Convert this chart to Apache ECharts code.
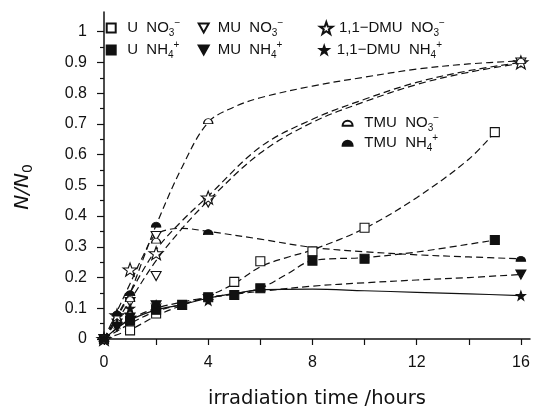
<!DOCTYPE html>
<html><head><meta charset="utf-8">
<script src="https://cdn.jsdelivr.net/npm/echarts@6/dist/echarts.min.js"></script>
<style>html,body{margin:0;padding:0;background:#fff}#c{width:536px;height:414px}</style>
</head><body><div id="c"></div>
<script>
// ---- tick labels ----
const xTickLabels = [0, 4, 8, 12, 16];
const xTickMarks = [0, 2, 4, 6, 8, 10, 12, 14, 16];
const yTickLabels = [0, 0.1, 0.2, 0.3, 0.4, 0.5, 0.6, 0.7, 0.8, 0.9, 1];
const yMinorTicks = [0.05, 0.15, 0.25, 0.35, 0.45, 0.55, 0.65, 0.75, 0.85, 0.95];

// ---- measured points (time in hours, N/N0) ----
const U_NO3_t = [0, 1, 2, 5, 6, 8, 10, 15];
const U_NO3_v = [0, 0.028, 0.083, 0.186, 0.253, 0.285, 0.362, 0.673];
const U_NH4_t = [0, 1, 2, 3, 4, 5, 6, 8, 10, 15];
const U_NH4_v = [0, 0.06, 0.095, 0.111, 0.136, 0.143, 0.165, 0.255, 0.261, 0.322];
const MU_NO3_t = [0, 0.5, 1, 2, 2, 4, 16];
const MU_NO3_v = [0, 0.05, 0.12, 0.205, 0.335, 0.444, 0.90];
const MU_NH4_t = [0, 0.5, 1, 2, 4, 16];
const MU_NH4_v = [0, 0.04, 0.07, 0.11, 0.13, 0.21];
const DMU_NO3_t = [0, 0.5, 1, 2, 4, 16];
const DMU_NO3_v = [0, 0.077, 0.226, 0.279, 0.46, 0.90];
const DMU_NH4_t = [0, 0.5, 1, 2, 4, 16];
const DMU_NH4_v = [0, 0.05, 0.10, 0.11, 0.125, 0.141];
const TMU_NO3_t = [0, 1, 2, 4, 16];
const TMU_NO3_v = [0, 0.13, 0.32, 0.709, 0.905];
const TMU_NH4_t = [0, 0.5, 1, 2, 4, 16];
const TMU_NH4_v = [0, 0.083, 0.149, 0.372, 0.348, 0.261];

// ---- fitted curves ----
const cTMU_NO3_t = [0, 0.5, 1, 1.5, 2, 3, 4, 5, 6, 8, 10, 12, 14, 16];
const cTMU_NO3_v = [0, 0.07, 0.15, 0.26, 0.37, 0.56, 0.705, 0.755, 0.785, 0.823, 0.852, 0.878, 0.895, 0.905];
const cDMU_NO3_t = [0, 0.5, 1, 2, 3, 4, 6, 8, 10, 12, 14, 16];
const cDMU_NO3_v = [0, 0.075, 0.15, 0.29, 0.385, 0.465, 0.625, 0.715, 0.78, 0.835, 0.873, 0.9];
const cMU_NO3_t = [0, 0.5, 1, 2, 3, 4, 6, 8, 10, 12, 14, 16];
const cMU_NO3_v = [0, 0.06, 0.125, 0.255, 0.36, 0.45, 0.605, 0.705, 0.772, 0.828, 0.868, 0.897];
const cU_NO3_t = [0, 1, 2, 3, 4, 5, 6, 7, 8, 10, 12, 14, 15];
const cU_NO3_v = [0, 0.03, 0.075, 0.11, 0.14, 0.18, 0.235, 0.265, 0.29, 0.36, 0.46, 0.585, 0.673];
const cU_NH4_t = [0, 1, 2, 3, 4, 5, 6, 7, 8, 10, 12, 15];
const cU_NH4_v = [0, 0.05, 0.09, 0.113, 0.135, 0.147, 0.165, 0.21, 0.255, 0.265, 0.283, 0.322];
const cTMU_NH4_t = [0, 0.5, 1, 1.5, 2, 3, 4, 6, 8, 10, 12, 14, 16];
const cTMU_NH4_v = [0, 0.09, 0.18, 0.27, 0.34, 0.36, 0.35, 0.325, 0.298, 0.284, 0.274, 0.267, 0.261];
const cMU_NH4_t = [0, 0.5, 1, 2, 3, 4, 6, 8, 10, 12, 14, 16];
const cMU_NH4_v = [0, 0.035, 0.065, 0.1, 0.12, 0.135, 0.155, 0.172, 0.183, 0.192, 0.2, 0.21];
const cDMU_NH4_t = [0, 0.5, 1, 2, 3, 4, 5, 6, 8, 10, 12, 14, 16];
const cDMU_NH4_v = [0, 0.035, 0.062, 0.095, 0.112, 0.133, 0.148, 0.16, 0.162, 0.157, 0.152, 0.147, 0.141];

const pts = (t, v) => t.map((x, i) => [x, v[i]]);

const SQ = 'path://M0,0L10,0L10,10L0,10Z';
const TRI = 'path://M0,0L10,0L5,9Z';
const STAR = 'path://M0,-10L2.35,-3.24L9.51,-3.09L3.8,1.24L5.88,8.09L0,4L-5.88,8.09L-3.8,1.24L-9.51,-3.09L-2.35,-3.24Z';
const DOME = 'path://M-10,0A10,10 0 0 1 10,0Z';
const INK = '#111';
const FONT = '"Liberation Sans", Arial, sans-serif';

const markers = [
  { name: 'U NO3', t: U_NO3_t, v: U_NO3_v, symbol: SQ, size: [9, 9], open: true },
  { name: 'U NH4', t: U_NH4_t, v: U_NH4_v, symbol: SQ, size: [9, 9], open: false },
  { name: 'MU NO3', t: MU_NO3_t, v: MU_NO3_v, symbol: TRI, size: [10, 9], open: true },
  { name: 'MU NH4', t: MU_NH4_t, v: MU_NH4_v, symbol: TRI, size: [10, 9], open: false },
  { name: 'DMU NO3', t: DMU_NO3_t, v: DMU_NO3_v, symbol: STAR, size: [14, 13], open: true },
  { name: 'DMU NH4', t: DMU_NH4_t, v: DMU_NH4_v, symbol: STAR, size: [9, 9], open: false },
  { name: 'TMU NO3', t: TMU_NO3_t, v: TMU_NO3_v, symbol: DOME, size: [9, 5], open: true },
  { name: 'TMU NH4', t: TMU_NH4_t, v: TMU_NH4_v, symbol: DOME, size: [9, 5], open: false }
];
const curves = [
  { t: cTMU_NO3_t, v: cTMU_NO3_v, solid: false },
  { t: cDMU_NO3_t, v: cDMU_NO3_v, solid: false },
  { t: cMU_NO3_t, v: cMU_NO3_v, solid: false },
  { t: cU_NO3_t, v: cU_NO3_v, solid: false },
  { t: cU_NH4_t, v: cU_NH4_v, solid: false },
  { t: cTMU_NH4_t, v: cTMU_NH4_v, solid: false },
  { t: cMU_NH4_t, v: cMU_NH4_v, solid: false },
  { t: cDMU_NH4_t, v: cDMU_NH4_v, solid: true }
];

const legendText = {
  'U NO3': '{b|U  NO}{sub|3}{sup|−}',
  'U NH4': '{b|U  NH}{sub|4}{sup|+}',
  'MU NO3': '{b|MU  NO}{sub|3}{sup|−}',
  'MU NH4': '{b|MU  NH}{sub|4}{sup|+}',
  'DMU NO3': '{b|1,1−DMU  NO}{sub|3}{sup|−}',
  'DMU NH4': '{b|1,1−DMU  NH}{sub|4}{sup|+}',
  'TMU NO3': '{b|TMU  NO}{sub|3}{sup|−}',
  'TMU NH4': '{b|TMU  NH}{sub|4}{sup|+}'
};
const rich = {
  b: { fontSize: 15, fontFamily: FONT, color: INK, lineHeight: 20 },
  sub: { fontSize: 10, fontFamily: FONT, color: INK, lineHeight: 10, verticalAlign: 'bottom' },
  sup: { fontSize: 10, fontFamily: FONT, color: INK, lineHeight: 10, verticalAlign: 'top' }
};
function mkLegend(name, left, centerY, itemWidth, itemHeight) {
  return {
    data: [name], left: left, top: centerY - 10, orient: 'vertical', padding: 0, itemGap: 0,
    itemWidth: itemWidth, itemHeight: itemHeight, selectedMode: false, symbolKeepAspect: true,
    formatter: n => legendText[n], textStyle: { rich: rich }
  };
}

const series = [];
curves.forEach((c, i) => series.push({
  type: 'line', name: 'curve' + i, data: pts(c.t, c.v), showSymbol: false, smooth: 0.35,
  silent: true, z: 1,
  lineStyle: { color: INK, width: 1.2, type: c.solid ? 'solid' : [7, 4] }
}));
markers.forEach(m => series.push({
  type: 'scatter', name: m.name, data: pts(m.t, m.v), symbol: m.symbol, symbolSize: m.size,
  clip: false, z: 3,
  itemStyle: { color: m.open ? '#fff' : INK, borderColor: INK, borderWidth: 1.1, opacity: 1 }
}));

const chart = echarts.init(document.getElementById('c'), null, { renderer: 'canvas' });
chart.setOption({
  backgroundColor: '#fff',
  animation: false,
  grid: { left: 104, right: 6, top: 12, bottom: 68 },
  xAxis: {
    type: 'value', min: 0, max: 16.35,
    axisLine: { show: true, lineStyle: { color: INK, width: 1.5 } },
    axisTick: { show: true, length: 6, customValues: xTickMarks, lineStyle: { color: INK, width: 1.2 } },
    axisLabel: { customValues: xTickLabels, margin: 16, fontSize: 16, fontFamily: FONT, color: INK },
    splitLine: { show: false },
    name: 'irradiation time /hours', nameLocation: 'middle', nameGap: 50,
    nameTextStyle: { fontSize: 19.5, fontFamily: '"DejaVu Sans", sans-serif', color: INK }
  },
  yAxis: [{
    type: 'value', min: 0, max: 1.064,
    axisLine: { show: true, lineStyle: { color: INK, width: 1.5 } },
    axisTick: { show: true, length: 7, customValues: yTickLabels, lineStyle: { color: INK, width: 1.2 } },
    axisLabel: { customValues: yTickLabels, margin: 17, fontSize: 16, fontFamily: FONT, color: INK },
    splitLine: { show: false }
  }, {
    type: 'value', min: 0, max: 1.064, position: 'left', offset: 0,
    axisLine: { show: false },
    axisTick: { show: true, length: 4, customValues: yMinorTicks, lineStyle: { color: INK, width: 1.2 } },
    axisLabel: { show: false }, splitLine: { show: false }
  }],
  legend: [
    mkLegend('U NO3', 105.7, 28, 22, 9),
    mkLegend('U NH4', 105.7, 50, 22, 9),
    mkLegend('MU NO3', 197.7, 28, 18, 9),
    mkLegend('MU NH4', 197.7, 50, 18, 9),
    mkLegend('DMU NO3', 319, 28, 15.2, 12),
    mkLegend('DMU NH4', 319, 50, 15.2, 8),
    mkLegend('TMU NO3', 341.6, 123.3, 23.4, 5),
    mkLegend('TMU NH4', 341.6, 143.3, 23.4, 5)
  ],
  graphic: [{
    type: 'text', x: 23, y: 187, rotation: Math.PI / 2,
    style: {
      text: '{i|N/N}{s|0}', align: 'center', verticalAlign: 'middle',
      rich: {
        i: { fontSize: 20, fontStyle: 'italic', fontFamily: '"DejaVu Sans", sans-serif', fill: INK, lineHeight: 24 },
        s: { fontSize: 14, fontFamily: '"DejaVu Sans", sans-serif', fill: INK, lineHeight: 14, verticalAlign: 'bottom' }
      }
    }
  }],
  series: series
});
</script>
</body></html>
